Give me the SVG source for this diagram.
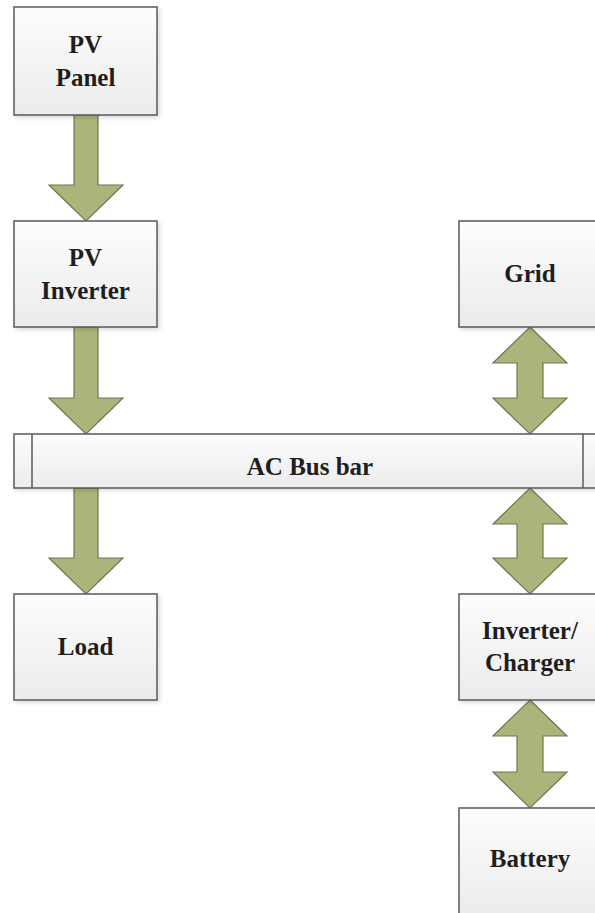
<svg xmlns="http://www.w3.org/2000/svg" width="595" height="913" viewBox="0 0 595 913">
<defs>
<linearGradient id="boxg" x1="0" y1="0" x2="0" y2="1">
<stop offset="0" stop-color="#fdfdfd"/>
<stop offset="1" stop-color="#ebebeb"/>
</linearGradient>
<filter id="sh" x="-10%" y="-10%" width="125%" height="125%">
<feDropShadow dx="2" dy="2" stdDeviation="2" flood-color="#000" flood-opacity="0.15"/>
</filter>
</defs>
<style>
.box{fill:url(#boxg);stroke:#5a5a5a;stroke-width:1.5;filter:url(#sh)}
.div{stroke:#5a5a5a;stroke-width:1.5;fill:none}
.lbl{font-family:"Liberation Serif","Times New Roman",serif;font-weight:bold;font-size:25px;fill:#1e1e1e;text-anchor:middle}
.arr{fill:#aab57c;stroke:#6f7650;stroke-width:1.2;stroke-linejoin:miter}
</style>
<rect width="595" height="913" fill="#ffffff"/>
<g id="connectors">
<path class="arr" d="M74,115 H98 V185 H123 L86,221 L49,185 H74 Z"/>
<path class="arr" d="M74,327 H98 V398 H123 L86,434 L49,398 H74 Z"/>
<path class="arr" d="M74,488 H98 V558 H123 L86,594 L49,558 H74 Z"/>
<path class="arr" d="M530,327 L567,363 H543 V398 H567 L530,434 L493,398 H517 V363 H493 Z"/>
<path class="arr" d="M530,488 L567,524 H543 V558 H567 L530,594 L493,558 H517 V524 H493 Z"/>
<path class="arr" d="M530,700 L567,736 H543 V772 H567 L530,808 L493,772 H517 V736 H493 Z"/>
</g>
<g id="pv-panel">
<rect class="box" x="14" y="7" width="143" height="108"/>
<text class="lbl" x="85.5" y="53">PV</text>
<text class="lbl" x="85.5" y="86">Panel</text>
</g>
<g id="pv-inverter">
<rect class="box" x="14" y="221" width="143" height="106"/>
<text class="lbl" x="85.5" y="266">PV</text>
<text class="lbl" x="85.5" y="299">Inverter</text>
</g>
<g id="ac-bus-bar">
<rect class="box" x="14" y="434" width="587" height="54"/>
<line class="div" x1="32" y1="434" x2="32" y2="488"/>
<line class="div" x1="583" y1="434" x2="583" y2="488"/>
<text class="lbl" x="310" y="475">AC Bus bar</text>
</g>
<g id="load">
<rect class="box" x="14" y="594" width="143" height="106"/>
<text class="lbl" x="85.5" y="655">Load</text>
</g>
<g id="grid">
<rect class="box" x="459" y="221" width="143" height="106"/>
<text class="lbl" x="530" y="282">Grid</text>
</g>
<g id="inverter-charger">
<rect class="box" x="459" y="594" width="143" height="106"/>
<text class="lbl" x="530" y="639">Inverter/</text>
<text class="lbl" x="530" y="671">Charger</text>
</g>
<g id="battery">
<rect class="box" x="459" y="808" width="143" height="110"/>
<text class="lbl" x="530" y="867">Battery</text>
</g>
</svg>
